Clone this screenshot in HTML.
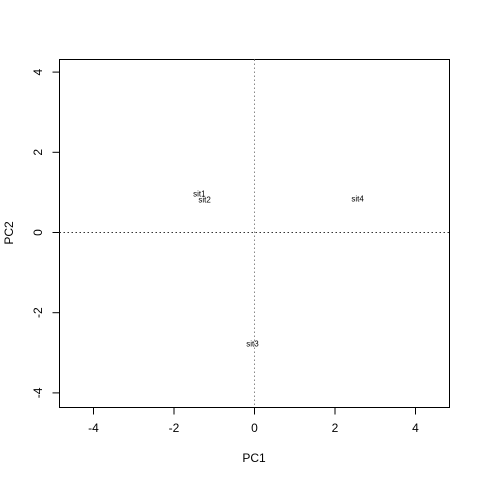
<!DOCTYPE html>
<html><head><meta charset="utf-8"><style>body{margin:0;background:#fff}svg{display:block}text{font-family:"Liberation Sans",sans-serif}</style></head>
<body>
<svg id="chart" width="480" height="480">
<rect x="59.5" y="59.5" width="390" height="348" fill="none" stroke="#000"/>
<g id="xaxis"></g>
<g id="yaxis"></g>
<line x1="59.5" x2="449.5" y1="232.5" y2="232.5" stroke="#333" stroke-dasharray="1.5,2.5"/>
<line x1="254.5" x2="254.5" y1="59.5" y2="407.5" stroke="#888" stroke-dasharray="1.5,2.5"/>
<g id="pts"></g>
<text x="254" y="462" font-size="12" text-anchor="middle">PC1</text>
<text transform="translate(13,233) rotate(-90)" font-size="12" text-anchor="middle">PC2</text>
</svg>
<script>
const sites=["sit1","sit2","sit3","sit4"];
const pc1=[-1.37,-1.24,-0.05,2.56];
const pc2=[0.97,0.82,-2.77,0.85];
const xTicks=[-4,-2,0,2,4];
const yTicks=[-4,-2,0,2,4];
const ns="http://www.w3.org/2000/svg";
const X=v=>254.5+v*40.25, Y=v=>232.5-v*40.1;
function mk(t,a,p){const e=document.createElementNS(ns,t);for(const k in a)e.setAttribute(k,a[k]);p.appendChild(e);return e;}
const xa=document.getElementById('xaxis'),ya=document.getElementById('yaxis'),pg=document.getElementById('pts');
xTicks.forEach(v=>{
 const l=mk('line',{x1:X(v),x2:X(v),y1:407.5,y2:414.5,stroke:'#000'},xa);
 
 
 const t=mk('text',{x:X(v),y:432,'font-size':12,'text-anchor':'middle'},xa);t.textContent=v;
 
 
});
yTicks.forEach(v=>{
 const l=mk('line',{x1:52.5,x2:59.5,y1:Y(v),y2:Y(v),stroke:'#000'},ya);
 
 
 const t=mk('text',{'font-size':12,'text-anchor':'middle',transform:`translate(42,${Y(v)}) rotate(-90)`},ya);t.textContent=v;
 
 
});
sites.forEach((s,i)=>{
 const t=mk('text',{x:X(pc1[i]),y:Y(pc2[i])+3,'font-size':8,'text-anchor':'middle',fill:'#000'},pg);t.textContent=s;
 
 
});
</script>
</body></html>
